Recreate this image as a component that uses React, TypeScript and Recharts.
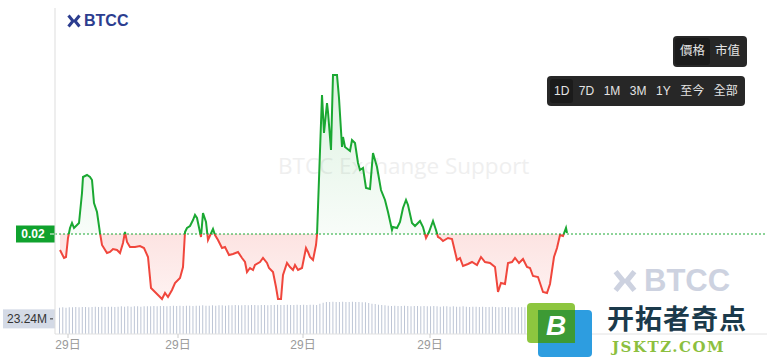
import React from "react";
import {
  ComposedChart,
  Area,
  XAxis,
  YAxis,
  ReferenceLine,
  BarChart,
  Bar,
} from "recharts";

// minutes since the start of the session
const times = [
  0, 12, 18, 24, 30, 36, 42, 51, 57, 66, 69, 81, 90, 96, 102, 111, 120, 126,
  141, 150, 159, 171, 180, 189, 195, 201, 210, 225, 240, 252, 264, 273, 285,
  294, 306, 315, 324, 336, 345, 360, 369, 375, 381, 390, 399, 405, 411, 423,
  429, 438, 444, 459, 465, 474, 486, 495, 507, 519, 534, 546, 555, 561, 570,
  579, 585, 600, 609, 621, 627, 639, 648, 654, 663, 669, 681, 690, 699, 705,
  714, 726, 738, 744, 750, 759, 768, 771, 786, 792, 801, 804, 813, 819, 831,
  837, 846, 849, 855, 870, 876, 885, 894, 900, 909, 918, 930, 939, 951, 963,
  975, 984, 996, 999, 1011, 1020, 1029, 1038, 1044, 1056, 1065, 1080, 1089,
  1098, 1107, 1119, 1128, 1134, 1140, 1149, 1164, 1176, 1191, 1200, 1209,
  1224, 1236, 1251, 1263, 1275, 1290, 1305, 1314, 1323, 1335, 1344, 1356,
  1365, 1377, 1389, 1401, 1410, 1419, 1434, 1449, 1461, 1470, 1482, 1491,
  1500, 1509, 1518, 1521,
];

const prices = [
  0.01968, 0.01952, 0.01954, 0.01992, 0.02012, 0.02022, 0.02012, 0.02018,
  0.02022, 0.02082, 0.02114, 0.02118, 0.02114, 0.02108, 0.02062, 0.02044,
  0.02002, 0.01978, 0.01962, 0.01964, 0.0197, 0.01968, 0.01962, 0.01982,
  0.02004, 0.01984, 0.01974, 0.01974, 0.01976, 0.01972, 0.01954, 0.01892,
  0.01884, 0.01878, 0.0187, 0.01882, 0.01874, 0.01888, 0.01902, 0.01912,
  0.01934, 0.02004, 0.02012, 0.02016, 0.02028, 0.02038, 0.02032, 0.01994,
  0.02042, 0.02024, 0.01988, 0.0201, 0.01998, 0.01988, 0.01972, 0.01974,
  0.01958, 0.0196, 0.01964, 0.01952, 0.01944, 0.01924, 0.01932, 0.01928,
  0.01938, 0.01944, 0.01952, 0.01942, 0.01932, 0.01924, 0.01894, 0.0187,
  0.0187, 0.01918, 0.01942, 0.01934, 0.01928, 0.01938, 0.01928, 0.01932,
  0.01972, 0.01964, 0.01954, 0.01948, 0.01978, 0.01998, 0.02278, 0.02202,
  0.02262, 0.02244, 0.02168, 0.02318, 0.02318, 0.02272, 0.02174, 0.02194,
  0.02174, 0.02166, 0.02188, 0.02182, 0.02142, 0.02128, 0.02132, 0.02092,
  0.0209, 0.02162, 0.02134, 0.02088, 0.02068, 0.02044, 0.02008, 0.02014,
  0.02012, 0.02024, 0.02052, 0.02068, 0.02058, 0.02022, 0.02016, 0.02026,
  0.02014, 0.01992, 0.02004, 0.02026, 0.02008, 0.01994, 0.01992, 0.01986,
  0.01992, 0.0199, 0.01948, 0.01952, 0.01936, 0.0194, 0.01944, 0.01938,
  0.01954, 0.01944, 0.01942, 0.01934, 0.01884, 0.01902, 0.019, 0.01942,
  0.01944, 0.01952, 0.01942, 0.0195, 0.01934, 0.01932, 0.01916, 0.01914,
  0.01884, 0.01882, 0.019, 0.01954, 0.01972, 0.01998, 0.01996, 0.02012,
  0.02002,
];

const basePrice = 0.02;
const xTicks = [24, 354, 729, 1110];
const xTickLabels = ["29日", "29日", "29日", "29日"];

// volume in millions, one bar per slot
const volumes = [
  26.6, 26.7, 26.6, 26.7, 26.7, 26.8, 26.7, 26.8, 26.8, 26.7, 26.8, 26.9,
  26.8, 26.9, 26.8, 26.9, 26.9, 26.8, 26.9, 27.0, 26.9, 27.0, 26.9, 27.0,
  27.0, 26.9, 27.0, 27.0,
  27.0, 27.1, 27.0, 27.1, 27.1, 27.0, 27.1, 27.2, 27.1, 27.2,
  27.1, 27.2, 27.2, 27.1, 27.2, 27.2, 27.3, 27.2, 27.2, 27.3,
  27.2, 27.3, 27.3, 27.2, 27.3, 27.3, 27.4, 27.3, 27.3, 27.4,
  27.3, 27.4, 27.4, 27.3, 27.4, 27.4, 27.3, 27.4, 27.4, 27.5,
  27.4, 27.4, 27.5, 27.4, 27.4, 27.5, 27.4, 27.5, 27.4, 27.5,
  27.5, 27.4,
  27.8, 28.1,
  28.3, 28.3, 28.4, 28.3, 28.3, 28.4, 28.3, 28.3, 28.4, 28.3, 28.3, 28.2,
  28.2,
  28.0, 27.8, 27.7, 27.5, 27.4, 27.3,
  27.2, 27.1, 27.2, 27.1, 27.1, 27.2, 27.1, 27.0, 27.1, 27.1,
  27.0, 27.1, 27.0, 27.0, 27.1, 27.0, 26.9, 27.0, 27.0, 26.9,
  27.0, 26.9, 26.9, 27.0, 26.9, 26.8, 26.9, 26.9, 26.8, 26.9,
  26.8, 26.8, 26.9, 26.8, 26.7, 26.8, 26.8, 26.7, 26.8, 26.7,
  26.7, 26.8, 26.7, 26.6, 26.7, 26.7, 26.6, 26.7, 26.6, 26.6,
  26.7, 26.6, 26.5, 26.6, 26.5, 26.6,
];
const lastVolume = 23.24;

const priceTabs = ["價格", "市值"];
const rangeTabs = ["1D", "7D", "1M", "3M", "1Y", "至今", "全部"];

const GREEN = "#1aa832";
const RED = "#f0463c";
const NAVY = "#2c3d8f";

const priceData = times.map((t, i) => ({ t, price: prices[i] }));
const volumeData = volumes.map((v, i) => ({ i, v }));

const maxP = Math.max(...prices);
const minP = Math.min(...prices);
const split = (maxP - basePrice) / (maxP - minP);

function PriceTag({ viewBox }: any) {
  if (!viewBox) return null;
  const { x, y } = viewBox;
  return (
    <g>
      <rect x={x - 39} y={y - 8.5} width={39} height={17} fill="#10a22e" />
      <line x1={x - 5} x2={x - 1} y1={y} y2={y} stroke="#fff" />
      <text
        x={x - 22}
        y={y + 4}
        textAnchor="middle"
        fill="#fff"
        fontSize={12}
        fontWeight={600}
        fontFamily="'Liberation Sans', Arial, sans-serif"
      >
        {basePrice.toFixed(2)}
      </text>
    </g>
  );
}

function VolumeTag({ viewBox }: any) {
  if (!viewBox) return null;
  const { x, y } = viewBox;
  return (
    <g>
      <rect x={x - 55} y={y - 9.5} width={52} height={19} fill="#d4dae6" />
      <line x1={x - 8} x2={x - 5} y1={y} y2={y} stroke="#333" />
      <text
        x={x - 31}
        y={y + 4.5}
        textAnchor="middle"
        fill="#333"
        fontSize={12}
        fontFamily="'Liberation Sans', Arial, sans-serif"
      >
        {lastVolume.toFixed(2)}M
      </text>
    </g>
  );
}

function BtccMark({ size, color }: { size: number; color: string }) {
  return (
    <svg width={size} height={size} viewBox="0 0 14 14">
      <polyline points="1.5,1.5 6,7 1.5,12.5" fill="none" stroke={color} strokeWidth={3} />
      <polyline points="12.5,1.5 8,7 12.5,12.5" fill="none" stroke={color} strokeWidth={3} />
    </svg>
  );
}

export default function App() {
  return (
    <div
      style={{
        position: "absolute",
        left: 0,
        top: 0,
        width: 767,
        height: 360,
        background: "#fff",
        overflow: "hidden",
        fontFamily: "'Liberation Sans', 'Noto Sans CJK TC', sans-serif",
      }}
    >
      <svg width={0} height={0} style={{ position: "absolute" }}>
        <defs>
          <linearGradient id="lineSplit" x1="0" y1="0" x2="0" y2="1">
            <stop offset={split} stopColor={GREEN} />
            <stop offset={split} stopColor={RED} />
          </linearGradient>
          <linearGradient id="fillSplit" x1="0" y1="0" x2="0" y2="1">
            <stop offset={0} stopColor={GREEN} stopOpacity={0.15} />
            <stop offset={split} stopColor={GREEN} stopOpacity={0.03} />
            <stop offset={split} stopColor={RED} stopOpacity={0.15} />
            <stop offset={1} stopColor={RED} stopOpacity={0.07} />
          </linearGradient>
        </defs>
      </svg>

      {/* faint watermark */}
      <div
        style={{
          position: "absolute",
          left: 278,
          top: 150,
          fontSize: 22.5,
          color: "#efefef",
          fontFamily: "'Open Sans', sans-serif",
          whiteSpace: "nowrap",
        }}
      >
        BTCC Exchange Support
      </div>

      <div style={{ position: "absolute", left: 0, top: 0 }}>
        <BarChart
          width={767}
          height={360}
          data={volumeData}
          margin={{ top: 300, right: 198, bottom: 26, left: 58 }}
        >
          <XAxis dataKey="i" hide />
          <YAxis domain={[18.7, 28.9]} hide allowDataOverflow />
          <ReferenceLine
            y={lastVolume}
            stroke="none"
            ifOverflow="visible"
            label={<VolumeTag />}
          />
          <Bar dataKey="v" fill="#bdc5d5" barSize={1} isAnimationActive={false} />
        </BarChart>
      </div>

      <div style={{ position: "absolute", left: 0, top: 0 }}>
        <ComposedChart
          width={767}
          height={360}
          data={priceData}
          margin={{ top: 8, right: 0, bottom: 0, left: 0 }}
        >
          <XAxis
            dataKey="t"
            type="number"
            domain={[-15, 2121]}
            ticks={xTicks}
            tickFormatter={(_v: number, i: number) => xTickLabels[i]}
            height={26}
            allowDataOverflow
            axisLine={{ stroke: "#e2e2e2" }}
            tickLine={{ stroke: "#cccccc" }}
            tickSize={4}
            tick={{ fill: "#9a9a9a", fontSize: 12 }}
          />
          <YAxis
            domain={[0.018, 0.02452]}
            width={55}
            allowDataOverflow
            tick={false}
            tickLine={false}
            axisLine={{ stroke: "#dddddd" }}
          />
          <ReferenceLine
            y={basePrice}
            stroke={GREEN}
            strokeDasharray="2 2"
            label={<PriceTag />}
          />
          <Area
            type="linear"
            dataKey="price"
            baseValue={basePrice}
            stroke="url(#lineSplit)"
            strokeWidth={2}
            fill="url(#fillSplit)"
            fillOpacity={1}
            dot={false}
            activeDot={false}
            isAnimationActive={false}
          />
        </ComposedChart>
      </div>

      {/* top-left logo */}
      <div
        style={{
          position: "absolute",
          left: 67,
          top: 12,
          display: "flex",
          alignItems: "center",
          gap: 3,
          color: NAVY,
          fontWeight: 700,
          fontSize: 16,
        }}
      >
        <BtccMark size={14} color={NAVY} />
        <span>BTCC</span>
      </div>

      {/* price / market cap switch */}
      <div
        style={{
          position: "absolute",
          left: 673,
          top: 36,
          padding: 2,
          background: "#272727",
          borderRadius: 4,
          display: "flex",
        }}
      >
        {priceTabs.map((label, i) => (
          <div
            key={label}
            style={{
              padding: "0 5px",
              height: 27,
              lineHeight: "27px",
              fontSize: 12.5,
              color: "#e4e4e4",
              background: i === 0 ? "#1b1b1b" : "transparent",
              borderRadius: 3,
            }}
          >
            {label}
          </div>
        ))}
      </div>

      {/* range switch */}
      <div
        style={{
          position: "absolute",
          left: 547,
          top: 76,
          padding: 3,
          background: "#272727",
          borderRadius: 4,
          display: "flex",
          gap: 1.5,
        }}
      >
        {rangeTabs.map((label, i) => (
          <div
            key={label}
            style={{
              padding: "0 4px",
              height: 24,
              lineHeight: "24px",
              fontSize: 12,
              color: "#e4e4e4",
              background: i === 0 ? "#1b1b1b" : "transparent",
              borderRadius: 3,
            }}
          >
            {label}
          </div>
        ))}
      </div>

      {/* bottom-right BTCC watermark */}
      <div
        style={{
          position: "absolute",
          left: 613,
          top: 263,
          display: "flex",
          alignItems: "center",
          gap: 7,
          color: "#cdd2e0",
          fontWeight: 700,
          fontSize: 31,
        }}
      >
        <BtccMark size={24} color="#cdd2e0" />
        <span>BTCC</span>
      </div>

      {/* site badge */}
      <div style={{ position: "absolute", left: 527, top: 303 }}>
        <svg width={66} height={55}>
          <rect x={0} y={0} width={48} height={40} rx={4} fill="#8dc63f" />
          <rect x={11} y={7} width={54} height={47} rx={4} fill="#2d9de0" />
          <rect x={11} y={7} width={37} height={33} fill="#3d9a35" />
          <text
            x={29}
            y={32}
            textAnchor="middle"
            fill="#fff"
            fontSize={28}
            fontWeight={700}
            fontStyle="italic"
            fontFamily="'Liberation Sans', Arial, sans-serif"
          >
            B
          </text>
        </svg>
      </div>
      <div
        style={{
          position: "absolute",
          left: 607,
          top: 303,
          fontSize: 27,
          fontWeight: 700,
          color: "#1b3a4b",
          fontFamily: "'Noto Sans CJK SC', sans-serif",
          whiteSpace: "nowrap",
          lineHeight: "29px",
          letterSpacing: 1,
        }}
      >
        开拓者奇点
      </div>
      <div
        style={{
          position: "absolute",
          left: 612,
          top: 340,
          fontSize: 15,
          fontWeight: 700,
          color: "#8cbf3f",
          fontFamily: "'DejaVu Serif', serif",
          letterSpacing: 1.5,
          whiteSpace: "nowrap",
          lineHeight: "14px",
        }}
      >
        JSKTZ.COM
      </div>
    </div>
  );
}
